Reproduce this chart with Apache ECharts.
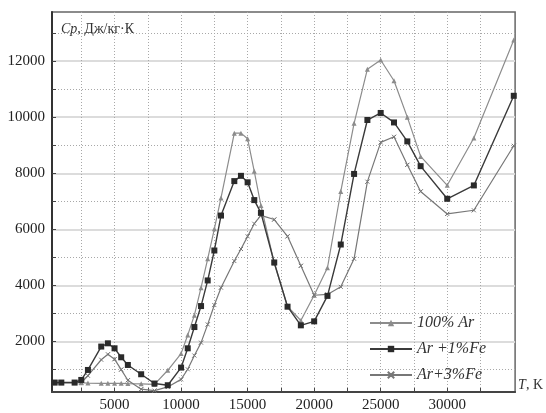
<!DOCTYPE html>
<html>
<head>
<meta charset="utf-8">
<script src="https://cdn.jsdelivr.net/npm/echarts@6/dist/echarts.min.js"></script>
<style>
  html, body { margin: 0; padding: 0; background: #fff; }
  #chart { width: 546px; height: 413px; }
</style>
</head>
<body>
<div id="chart"></div>
<script>
// температура, К
const tempAr = [500, 1000, 2000, 2500, 3000, 4000, 4500, 5000, 5500, 6000, 7000, 8000, 9000, 10000, 10500, 11000, 11500, 12000, 12500, 13000, 14000, 14500, 15000, 15500, 16000, 17000, 18000, 19000, 20000, 21000, 22000, 23000, 24000, 25000, 26000, 27000, 28000, 30000, 32000, 35000]
// Cp, Дж/кг·К
const cpAr = [530, 530, 530, 530, 520, 510, 510, 510, 510, 500, 490, 470, 975, 1570, 2230, 2940, 3920, 4950, 6020, 7120, 9430, 9430, 9230, 8070, 6850, 4800, 3250, 2750, 3650, 4630, 7350, 9780, 11710, 12040, 11300, 10000, 8600, 7570, 9260, 12750]
const cpFe1 = [537, 537, 537, 630, 986, 1820, 1936, 1758, 1438, 1164, 833, 502, 441, 1071, 1758, 2516, 3264, 4178, 5246, 6492, 7720, 7908, 7677, 7043, 6587, 4819, 3242, 2577, 2719, 3627, 5459, 7976, 9898, 10150, 9812, 9136, 8253, 7090, 7566, 10762]
const cpFe3 = [537, 537, 537, 540, 780, 1350, 1545, 1370, 1000, 620, 300, 250, 380, 650, 1010, 1500, 1960, 2610, 3300, 3920, 4870, 5300, 5750, 6200, 6500, 6350, 5750, 4700, 3650, 3680, 3950, 4950, 7700, 9100, 9300, 8300, 7350, 6550, 6680, 8980]

const seriesNames = ['100% Ar', 'Ar +1%Fe', 'Ar+3%Fe']
const xTicks = [2500, 5000, 7500, 10000, 12500, 15000, 17500, 20000, 22500, 25000, 27500, 30000, 32500]
const xLabels = [5000, 10000, 15000, 20000, 25000, 30000]
const yTicks = [1000, 2000, 3000, 4000, 5000, 6000, 7000, 8000, 9000, 10000, 11000, 12000, 13000]
const yLabels = [2000, 4000, 6000, 8000, 10000, 12000]

const chart = echarts.init(document.getElementById('chart'))
const serif = 'Liberation Serif'

function pairs (xs, ys) {
  return xs.map((x, i) => [x, ys[i]])
}

const option = {
  animation: false,
  backgroundColor: '#fff',
  textStyle: { fontFamily: serif },
  title: {
    text: '{i|Cp}, Дж/кг·К',
    left: 56,
    top: 17,
    textStyle: {
      fontFamily: serif,
      fontSize: 14,
      fontWeight: 'normal',
      color: '#333',
      rich: { i: { fontFamily: serif, fontStyle: 'italic', fontSize: 14, color: '#333' } }
    }
  },
  grid: {
    left: 52,
    right: 30,
    top: 12,
    bottom: 20,
    show: true,
    borderColor: '#666',
    borderWidth: 1.5
  },
  legend: {
    orient: 'vertical',
    left: 364,
    top: 310,
    itemWidth: 42,
    itemHeight: 8,
    itemGap: 10,
    data: seriesNames,
    textStyle: { fontFamily: serif, fontStyle: 'italic', fontSize: 16, color: '#333' }
  },
  xAxis: {
    type: 'value',
    min: 300,
    max: 35100,
    name: '{i|T}, K',
    nameLocation: 'end',
    nameGap: 3,
    nameTextStyle: {
      fontFamily: serif,
      fontSize: 14,
      color: '#333',
      verticalAlign: 'bottom',
      rich: { i: { fontFamily: serif, fontStyle: 'italic', fontSize: 14, color: '#333' } }
    },
    axisLine: { lineStyle: { color: '#444', width: 2 } },
    axisTick: { inside: true, length: 4, customValues: xTicks, lineStyle: { color: '#444' } },
    axisLabel: { customValues: xLabels, formatter: v => String(v), fontFamily: serif, fontSize: 15, color: '#222', margin: 6 },
    splitLine: { show: true, lineStyle: { color: '#a8a8a8', type: [1, 2], width: 1 } }
  },
  yAxis: [
    {
      type: 'value',
      min: 200,
      max: 13750,
      axisLine: { show: true, lineStyle: { color: '#333', width: 2 } },
      axisTick: { inside: true, length: 4, customValues: yTicks, lineStyle: { color: '#444' } },
      axisLabel: { customValues: yLabels, formatter: v => String(v), fontFamily: serif, fontSize: 15, color: '#222', margin: 7 },
      splitLine: { show: true, lineStyle: { color: '#a8a8a8', type: [1, 2], width: 1 } }
    },
    {
      type: 'value',
      min: 200,
      max: 13750,
      position: 'left',
      axisLine: { show: false },
      axisTick: { show: false, customValues: yLabels },
      axisLabel: { show: false },
      splitLine: { show: true, lineStyle: { color: '#dcdcdc', width: 2 } }
    }
  ],
  series: [
    {
      name: seriesNames[0],
      type: 'line',
      data: pairs(tempAr, cpAr),
      symbol: 'triangle',
      symbolSize: 5,
      lineStyle: { color: '#8c8c8c', width: 1.2 },
      itemStyle: { color: '#8c8c8c' },
      z: 3
    },
    {
      name: seriesNames[1],
      type: 'line',
      data: pairs(tempAr, cpFe1),
      symbol: 'rect',
      symbolSize: 6,
      lineStyle: { color: '#3a3a3a', width: 1.4 },
      itemStyle: { color: '#2a2a2a' },
      z: 4
    },
    {
      name: seriesNames[2],
      type: 'line',
      data: pairs(tempAr, cpFe3),
      symbol: 'path://M0,0L1,1M1,0L0,1Z',
      symbolSize: 4,
      lineStyle: { color: '#777', width: 1.2 },
      itemStyle: { color: 'none', borderColor: '#777', borderWidth: 1 },
      z: 3
    }
  ]
}

chart.setOption(option)
</script>
</body>
</html>
